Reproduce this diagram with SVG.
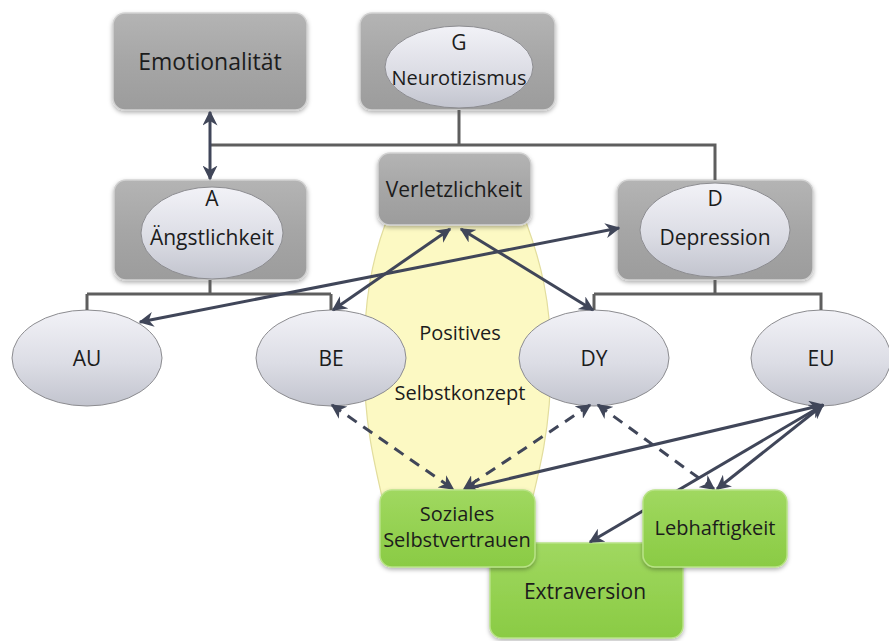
<svg xmlns="http://www.w3.org/2000/svg" width="889" height="641" viewBox="0 0 889 641">
  <defs>
    <linearGradient id="gGray" x1="0" y1="0" x2="0" y2="1">
      <stop offset="0" stop-color="#b4b4b4"/>
      <stop offset="0.5" stop-color="#a6a6a6"/>
      <stop offset="1" stop-color="#9c9c9c"/>
    </linearGradient>
    <linearGradient id="gOval" x1="0" y1="0" x2="0" y2="1">
      <stop offset="0" stop-color="#f2f2f7"/>
      <stop offset="0.55" stop-color="#dcdde5"/>
      <stop offset="1" stop-color="#c2c4ce"/>
    </linearGradient>
    <linearGradient id="gGreen" x1="0" y1="0" x2="0" y2="1">
      <stop offset="0" stop-color="#a0d860"/>
      <stop offset="1" stop-color="#8acb44"/>
    </linearGradient>
    <filter id="shadow" x="-10%" y="-10%" width="120%" height="130%">
      <feDropShadow dx="0" dy="2" stdDeviation="2" flood-color="#000" flood-opacity="0.3"/>
    </filter>
    <marker id="arrow" viewBox="0 0 10 10" refX="9" refY="5" markerWidth="5" markerHeight="5" orient="auto-start-reverse" markerUnits="strokeWidth">
      <path d="M0,0 L10,5 L0,10 L3,5 z" fill="#404659"/>
    </marker>
    <style>
      .box { fill: url(#gGray); stroke: #d2d2d2; stroke-width: 1.5; filter: url(#shadow); }
      .oval { fill: url(#gOval); stroke: #8c8c90; stroke-width: 1; }
      .green { fill: url(#gGreen); stroke: #b8e286; stroke-width: 1.5; filter: url(#shadow); }
      .lens { fill: #fcf9c3; stroke: #e2dd9e; stroke-width: 1.2; }
      .tree { fill: none; stroke: #5e5e5e; stroke-width: 3; }
      .link { fill: none; stroke: #404659; stroke-width: 3; marker-start: url(#arrow); marker-end: url(#arrow); }
      .dash { stroke-dasharray: 11 8; }
      text { font-family: "Open Sans", "Liberation Sans", sans-serif; font-size: 21px; fill: #1c1c1c; text-anchor: middle; }
      .sm { font-size: 20px; }
      .lg { font-size: 23px; }
    </style>
  </defs>

  <!-- background area behind the two central facets -->
  <g id="positives-selbstkonzept">
    <path class="lens" d="M386,222 C372,260 364,300 364,360 C364,430 376,470 392,540 L522,540 C540,470 551,430 551,360 C551,300 540,260 526,222 Z"/>
    <text class="sm" x="460" y="340">Positives</text>
    <text class="sm" x="460" y="400">Selbstkonzept</text>
  </g>

  <!-- upper level -->
  <g id="emotionalitaet">
    <rect class="box" x="113" y="13" width="194" height="97" rx="12"/>
    <text class="lg" x="210" y="70">Emotionalität</text>
  </g>
  <g id="neurotizismus">
    <rect class="box" x="360" y="13" width="195" height="97" rx="12"/>
    <ellipse class="oval" cx="459" cy="67" rx="74" ry="41"/>
    <text x="459" y="50">G</text>
    <text class="sm" x="459" y="85">Neurotizismus</text>
  </g>

  <!-- middle level -->
  <g id="aengstlichkeit">
    <rect class="box" x="114" y="180" width="193" height="100" rx="12"/>
    <ellipse class="oval" cx="212" cy="233" rx="71" ry="46"/>
    <text x="212" y="206">A</text>
    <text x="212" y="245">Ängstlichkeit</text>
  </g>
  <g id="verletzlichkeit">
    <rect class="box" x="378" y="153" width="153" height="72" rx="12"/>
    <text x="454" y="197">Verletzlichkeit</text>
  </g>
  <g id="depression">
    <rect class="box" x="617" y="180" width="196" height="100" rx="12"/>
    <ellipse class="oval" cx="715" cy="230" rx="75" ry="47"/>
    <text x="715" y="206">D</text>
    <text x="715" y="245">Depression</text>
  </g>

  <!-- facets -->
  <g id="au">
    <ellipse class="oval" cx="87" cy="358" rx="75" ry="48"/>
    <text x="87" y="366">AU</text>
  </g>
  <g id="be">
    <ellipse class="oval" cx="331" cy="358" rx="75" ry="48"/>
    <text x="331" y="366">BE</text>
  </g>
  <g id="dy">
    <ellipse class="oval" cx="594" cy="358" rx="75" ry="48"/>
    <text x="594" y="366">DY</text>
  </g>
  <g id="eu">
    <ellipse class="oval" cx="821" cy="358" rx="70" ry="48"/>
    <text x="821" y="366">EU</text>
  </g>

  <!-- extraversion block -->
  <g id="extraversion">
    <rect class="green" x="490" y="543" width="193" height="95" rx="12"/>
    <text x="585" y="599">Extraversion</text>
  </g>

  <!-- connectors -->
  <g id="connectors">
    <path class="tree" d="M459,110 V145 M210,145 H715 V180"/>
    <path class="tree" d="M210,280 V294 M87,294 H331 M87,294 V310 M331,294 V310"/>
    <path class="tree" d="M715,280 V294 M594,294 H821 V310 M594,294 V310"/>
    <line class="link" x1="210" y1="112" x2="210" y2="179"/>
    <line class="link" x1="450" y1="229" x2="333" y2="310"/>
    <line class="link" x1="461" y1="229" x2="593" y2="310"/>
    <line class="link" x1="140" y1="322" x2="619" y2="228"/>
    <line class="link" x1="823" y1="405" x2="465" y2="489"/>
    <line class="link" x1="823" y1="405" x2="717" y2="489"/>
    <line class="link" x1="823" y1="405" x2="590" y2="542"/>
    <line class="link dash" x1="332" y1="405" x2="453" y2="489"/>
    <line class="link dash" x1="590" y1="405" x2="464" y2="489"/>
    <line class="link dash" x1="598" y1="405" x2="714" y2="489"/>
  </g>

  <!-- lower facets of extraversion -->
  <g id="soziales-selbstvertrauen">
    <rect class="green" x="380" y="490" width="155" height="77" rx="12"/>
    <text class="sm" x="457" y="521">Soziales</text>
    <text class="sm" x="457" y="547">Selbstvertrauen</text>
  </g>
  <g id="lebhaftigkeit">
    <rect class="green" x="643" y="490" width="144" height="77" rx="12"/>
    <text class="sm" x="715" y="535">Lebhaftigkeit</text>
  </g>
</svg>
